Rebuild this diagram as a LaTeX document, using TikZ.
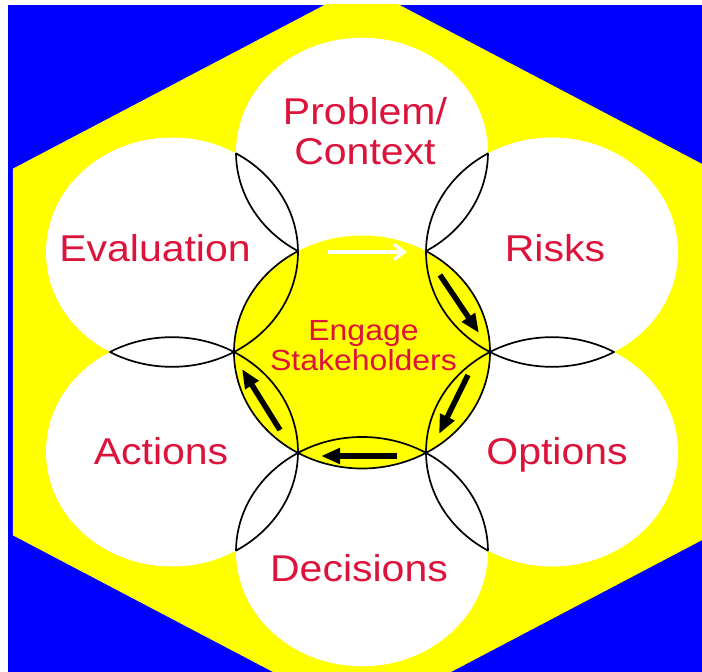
\documentclass[tikz,border=0pt]{standalone}
\usepackage{fontspec}
\setmainfont{Liberation Sans}
\usetikzlibrary{arrows.meta}
\definecolor{bgblue}{RGB}{0,0,255}
\definecolor{hexyellow}{RGB}{255,255,0}
\definecolor{labelred}{RGB}{220,20,60}
\tikzset{
  label text/.style={text=labelred, font=\fontsize{41bp}{44bp}\selectfont, yscale=0.91, inner sep=0pt, align=center},
  small text/.style={text=labelred, font=\fontsize{32bp}{33bp}\selectfont, yscale=0.91, inner sep=0pt, align=center},
  lens line/.style={draw=black, line width=1.7bp},
  cycle arrow/.style={draw=black, line width=5.5bp, -{Triangle[length=19bp,width=15bp]}},
  white arrow/.style={draw=white, line width=3.5bp, -{Straight Barb[length=10bp,width=15bp]}}
}
\begin{document}
\begin{tikzpicture}[x=1bp,y=1bp]
\useasboundingbox (-362,-320) rectangle (340,352);
\fill[white] (-362,-320) rectangle (340,352);
\fill[bgblue] (-354,-320) rectangle (340,347);
% hexagon
\begin{scope}
  \clip (-354,-320) rectangle (340,347);
  \begin{scope}[yscale=0.91]
    \fill[hexyellow] (90:403) -- (30:403) -- (-30:403) -- (-90:403) -- (-150:403) -- (150:403) -- cycle;
  \end{scope}
\end{scope}
% circles
\begin{scope}[yscale=0.91]
  \def\dd{219.4}
  \def\rr{126}
  \def\rc{128}
  \foreach \a in {90,30,-30,-90,-150,150}
    \fill[white] (\a:\dd) circle[radius=\rr];
  \foreach \a/\b in {90/30, 30/-30, -30/-90, -90/-150, -150/150, 150/90} {
    \begin{scope}
      \clip (\b:\dd) circle[radius=\rr];
      \draw[lens line] (\a:\dd) circle[radius=\rr];
    \end{scope}
    \begin{scope}
      \clip (\a:\dd) circle[radius=\rr];
      \draw[lens line] (\b:\dd) circle[radius=\rr];
    \end{scope}
  }
  \fill[hexyellow] (0,0) circle[radius=\rc];
  \draw[lens line] (120:\rc) arc[start angle=120, end angle=420, radius=\rc];
  \begin{scope}
    \clip (0,0) circle[radius=\rc];
    \foreach \a in {30,-30,-90,-150,150}
      \draw[lens line] (\a:\dd) circle[radius=\rr];
  \end{scope}
\end{scope}
% arrows
\coordinate (wA) at (-34,100);
\coordinate (wB) at (45,100);
\coordinate (rA) at (78,77);
\coordinate (rB) at (117,19);
\coordinate (oA) at (106,-23);
\coordinate (oB) at (77,-82);
\coordinate (dA) at (35,-104);
\coordinate (dB) at (-41,-104);
\coordinate (aA) at (-82,-78);
\coordinate (aB) at (-120,-17);
\draw[white arrow] (wA) -- (wB);
\draw[cycle arrow] (rA) -- (rB);
\draw[cycle arrow] (oA) -- (oB);
\draw[cycle arrow] (dA) -- (dB);
\draw[cycle arrow] (aA) -- (aB);
% labels
\node[label text] (prob) at (3,221) {Problem/\\Context};
\node[label text, anchor=base] (eval) at (-207,90) {Evaluation};
\node[label text, anchor=base] (risk) at (193,90) {Risks};
\node[label text, anchor=base] (act) at (-201,-112) {Actions};
\node[label text, anchor=base] (opt) at (195,-112.5) {Options};
\node[label text, anchor=base] (dec) at (-3,-229) {Decisions};
\node[small text] (eng) at (1.5,6) {Engage\\Stakeholders};
\end{tikzpicture}
\end{document}
